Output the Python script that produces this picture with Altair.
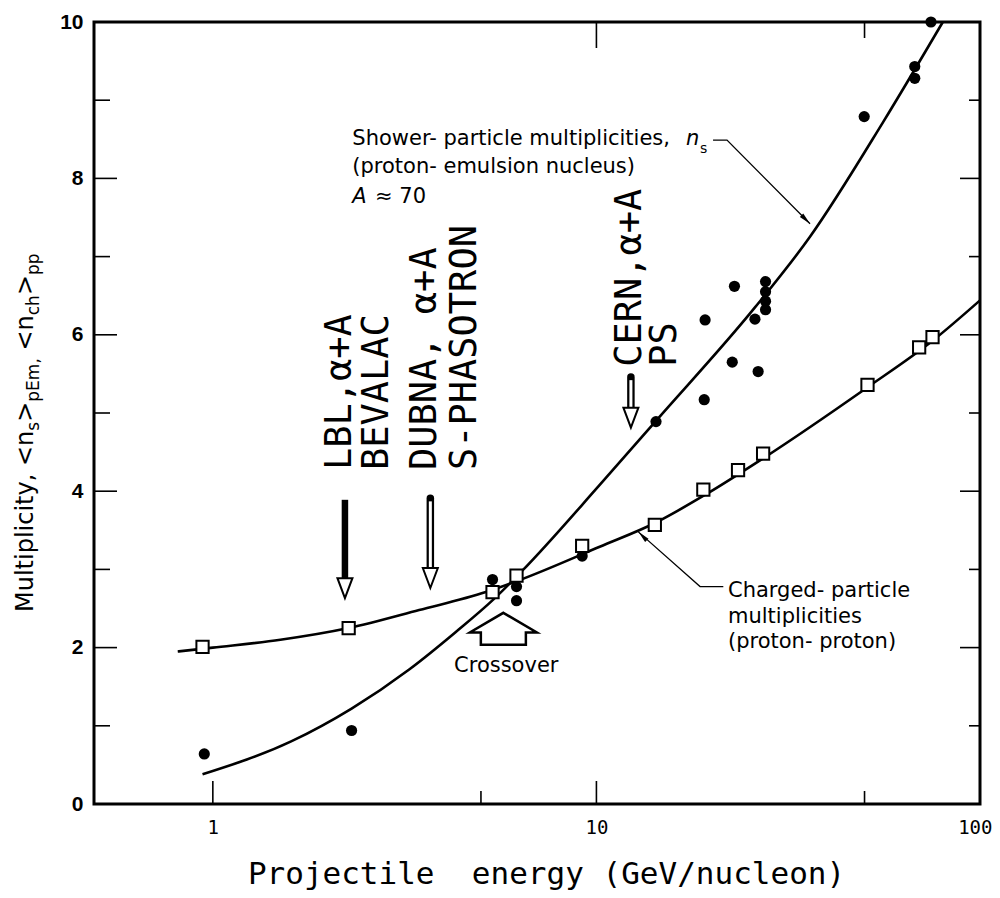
import altair as alt
import pandas as pd

# ---------------- data ----------------
# proton-proton charged multiplicities (open squares)
pp_E = [0.94, 2.26, 5.36, 6.19, 9.18, 14.2, 19.0, 23.4, 27.2, 50.9, 69.4, 75.2]
pp_M = [2.01, 2.25, 2.71, 2.92, 3.30, 3.57, 4.02, 4.27, 4.48, 5.36, 5.84, 5.97]
# proton-emulsion shower multiplicities (filled circles)
ns_E = [0.95, 2.30, 5.36, 6.19, 6.19, 9.18, 14.3, 19.1, 19.2, 22.6, 22.9, 25.9, 26.4,
        27.6, 27.6, 27.6, 27.6, 49.9, 67.6, 67.6, 74.5]
ns_M = [0.64, 0.94, 2.87, 2.78, 2.60, 3.17, 4.89, 5.17, 6.19, 5.65, 6.62, 6.20, 5.53,
        6.68, 6.55, 6.43, 6.32, 8.79, 9.43, 9.28, 10.0]
# hand-drawn curves
pp_fit_E = [0.81, 1.0, 1.5, 2.26, 3.45, 5.15, 6.2, 10.2, 14.3, 19.3, 27.2, 50.6, 75.5, 100]
pp_fit_M = [1.95, 2.0, 2.1, 2.25, 2.48, 2.71, 2.85, 3.29, 3.6, 3.96, 4.42, 5.32, 5.93, 6.44]
ns_fit_E = [0.94, 1.6, 2.3, 3.25, 4.3, 5.4, 6.4, 10.2, 14.3, 25.9, 36, 55.9, 80]
ns_fit_M = [0.38, 0.8, 1.22, 1.72, 2.2, 2.62, 2.98, 4.08, 4.9, 6.35, 7.25, 8.72, 10.0]

x_major = [1, 10, 100]
x_minor = [5, 50]
y_labels = [0, 2, 4, 6, 8, 10]
y_major = [2, 4, 6, 8]
y_minor = [1, 3, 5, 7, 9]

# ---------------- layout ----------------
W, H = 886, 782
xs = alt.Scale(type="log", domain=[0.49, 100], nice=False)
ys = alt.Scale(domain=[0, 10], nice=False, zero=False)

x_axis = alt.Axis(values=x_major, format="d", ticks=False, tickSize=0, domain=False, grid=False,
                  labelFont="DejaVu Sans Mono", labelFontSize=19, labelColor="black",
                  labelPadding=14, labelFlush=False, labelOverlap=False,
                  labelAlign={"expr": "datum.value == 100 ? 'right' : 'center'"},
                  labelOffset={"expr": "datum.value == 100 ? 12 : 0"},
                  title="Projectile\u00a0 energy (GeV/nucleon)", titleFont="DejaVu Sans Mono",
                  titleFontSize=31, titleFontWeight="normal", titleColor="black",
                  titleX=452, titleY=79, titleBaseline="alphabetic", titleAlign="center")
y_axis = alt.Axis(values=y_labels, format="d", ticks=False, tickSize=0, domain=False, grid=False,
                  labelFont="Liberation Sans", labelFontSize=21, labelFontWeight="bold",
                  labelColor="black", labelPadding=11, labelFlush=False, labelOverlap=False,
                  title=None)


def X():
    return alt.X("E:Q", scale=xs, axis=x_axis)


def Y():
    return alt.Y("M:Q", scale=ys, axis=y_axis)


pp_fit = pd.DataFrame({"E": pp_fit_E, "M": pp_fit_M})
ns_fit = pd.DataFrame({"E": ns_fit_E, "M": ns_fit_M})
pp = pd.DataFrame({"E": pp_E, "M": pp_M})
ns = pd.DataFrame({"E": ns_E, "M": ns_M})

line_pp = alt.Chart(pp_fit).mark_line(color="black", strokeWidth=2.6, interpolate="monotone").encode(
    x=X(), y=Y())
line_ns = alt.Chart(ns_fit).mark_line(color="black", strokeWidth=2.6, interpolate="monotone").encode(
    x=X(), y=Y())
circles = alt.Chart(ns).mark_circle(size=125, color="black", opacity=1).encode(x=X(), y=Y())
squares = alt.Chart(pp).mark_point(shape="square", size=150, filled=True, fill="white",
                                   stroke="black", strokeWidth=2, opacity=1).encode(x=X(), y=Y())

# ---------------- frame ticks ----------------
def tick_df(vals, key):
    return pd.DataFrame({key: vals})

ticks = [
    alt.Chart(tick_df(x_major, "E")).mark_rule(color="black", strokeWidth=1.6).encode(
        x=X(), y=alt.value(H), y2=alt.value(H - 23)),
    alt.Chart(tick_df(x_minor, "E")).mark_rule(color="black", strokeWidth=1.6).encode(
        x=X(), y=alt.value(H), y2=alt.value(H - 13)),
    alt.Chart(tick_df([10], "E")).mark_rule(color="black", strokeWidth=1.6).encode(
        x=X(), y=alt.value(0), y2=alt.value(26)),
    alt.Chart(tick_df([50], "E")).mark_rule(color="black", strokeWidth=1.6).encode(
        x=X(), y=alt.value(0), y2=alt.value(16)),
    alt.Chart(tick_df(y_major, "M")).mark_rule(color="black", strokeWidth=1.6).encode(
        y=Y(), x=alt.value(0), x2=alt.value(23)),
    alt.Chart(tick_df(y_minor, "M")).mark_rule(color="black", strokeWidth=1.6).encode(
        y=Y(), x=alt.value(0), x2=alt.value(16)),
    alt.Chart(tick_df(y_major, "M")).mark_rule(color="black", strokeWidth=1.6).encode(
        y=Y(), x=alt.value(W), x2=alt.value(W - 20)),
    alt.Chart(tick_df(y_minor, "M")).mark_rule(color="black", strokeWidth=1.6).encode(
        y=Y(), x=alt.value(W), x2=alt.value(W - 11)),
]

# ---------------- accelerator arrows ----------------
shaft_solid = pd.DataFrame({"E": [2.21], "M": [3.89], "M2": [2.85]})
shaft_hollow = pd.DataFrame({"E": [3.69, 12.3], "M": [3.91, 5.46], "M2": [2.98, 5.04]})
shaft_inner = pd.DataFrame({"E": [3.69, 12.3], "M": [3.87, 5.42], "M2": [2.98, 5.04]})
heads = pd.DataFrame({"E": [2.21, 3.69, 12.3], "M": [2.76, 2.89, 4.94]})

arrows = [
    alt.Chart(shaft_solid).mark_rule(color="black", strokeWidth=6.5).encode(
        x=X(), y=Y(), y2="M2:Q"),
    alt.Chart(shaft_hollow).mark_rule(color="black", strokeWidth=7.5, strokeCap="round").encode(
        x=X(), y=Y(), y2="M2:Q"),
    alt.Chart(shaft_inner).mark_rule(color="white", strokeWidth=3).encode(
        x=X(), y=Y(), y2="M2:Q"),
    alt.Chart(heads).mark_point(shape="M-0.75,-1L0.75,-1L0,1Z", size=400, filled=True,
                                fill="white", stroke="black", strokeWidth=2, opacity=1).encode(
        x=X(), y=Y()),
]

rot = pd.DataFrame({
    "t": ["LBL,\u03b1+A", "BEVALAC", "DUBNA,\u00a0\u03b1+A", "S-PHASOTRON", "CERN,\u03b1+A", "PS"],
    "E": [2.293, 2.855, 3.817, 4.856, 13.09, 16.16],
    "M": [4.27, 4.27, 4.27, 4.27, 5.59, 5.59],
})
rot_text = alt.Chart(rot).mark_text(angle=270, align="left", baseline="alphabetic",
                                    font="DejaVu Sans Mono", fontSize=37, color="black").encode(
    x=X(), y=Y(), text="t:N")

# crossover arrow
cross = pd.DataFrame({"E": [5.72], "M": [2.24]})
cross_arrow = alt.Chart(cross).mark_point(
    shape="M0,-0.478L1,0.11L0.672,0.11L0.672,0.478L-0.672,0.478L-0.672,0.11L-1,0.11Z",
    size=4489, filled=True, fill="white", stroke="black", strokeWidth=2.5, opacity=1).encode(
    x=X(), y=Y())

# ---------------- annotation texts ----------------
FONT = "DejaVu Sans"
txt_plain = pd.DataFrame({
    "t": ["Crossover", "Shower- particle multiplicities,", "(proton- emulsion nucleus)",
          "\u2248 70", "Charged- particle", "multiplicities", "(proton- proton)"],
    "E": [5.82, 2.31, 2.31, 2.647, 22.03, 22.03, 22.03],
    "M": [1.69, 8.43, 8.07, 7.69, 2.65, 2.31, 1.99],
    "a": ["center", "left", "left", "left", "left", "left", "left"],
})
texts = [
    alt.Chart(txt_plain[txt_plain.a == "center"]).mark_text(
        align="center", baseline="alphabetic", font=FONT, fontSize=21, color="black").encode(
        x=X(), y=Y(), text="t:N"),
    alt.Chart(txt_plain[txt_plain.a == "left"]).mark_text(
        align="left", baseline="alphabetic", font=FONT, fontSize=21, color="black").encode(
        x=X(), y=Y(), text="t:N"),
    alt.Chart(pd.DataFrame({"t": ["n", "A"], "E": [17.12, 2.31], "M": [8.43, 7.69]})).mark_text(
        align="left", baseline="alphabetic", font=FONT, fontSize=21, fontStyle="italic",
        color="black").encode(x=X(), y=Y(), text="t:N"),
    alt.Chart(pd.DataFrame({"t": ["s"], "E": [18.63], "M": [8.32]})).mark_text(
        align="left", baseline="alphabetic", font=FONT, fontSize=14, color="black").encode(
        x=X(), y=Y(), text="t:N"),
]

# leader lines with small arrowheads
lead = pd.DataFrame({
    "g": ["s", "s", "s", "c", "c", "c"],
    "i": [0, 1, 2, 0, 1, 2],
    "E": [20.14, 21.9, 36.05, 21.42, 18.63, 12.86],
    "M": [8.49, 8.49, 7.42, 2.78, 2.78, 3.48],
})
leaders = alt.Chart(lead).mark_line(color="black", strokeWidth=1.3).encode(
    x=X(), y=Y(), detail="g:N", order="i:Q")
tips = pd.DataFrame({"E": [36.05, 12.86], "M": [7.42, 3.48], "ang": [135, 315]})
tip_marks = alt.Chart(tips).mark_point(shape="M0,0L0.4,2L-0.4,2Z", size=144, filled=True,
                                       color="black", opacity=1).encode(
    x=X(), y=Y(), angle=alt.Angle("ang:Q", scale=None))

# ---------------- composite y title (rotated, with subscripts) ----------------
DV = {"M": 0.863, "u": 0.634, "l": 0.278, "t": 0.392, "i": 0.278, "p": 0.635, "c": 0.550,
      "y": 0.592, ",": 0.318, " ": 0.318, "<": 0.838, ">": 0.838, "n": 0.634, "s": 0.521,
      "E": 0.632, "m": 0.974, "h": 0.634}


def tw(s, fs):
    return sum(DV[c] for c in s) * fs


pieces = [("Multiplicity, <n", 24, 0), ("s", 17, 1), (">", 24, 0), ("pEm,", 17, 1),
          (" ", 24, None), ("<n", 24, 0), ("ch", 17, 1), (">", 24, 0), ("pp", 17, 1)]
ytitle = []
ypos = 590.0
anchor = pd.DataFrame({"E": [1.0], "M": [5.0]})
for t, fs, sub in pieces:
    if sub is not None:
        ytitle.append(
            alt.Chart(anchor).mark_text(angle=270, align="left", baseline="alphabetic",
                                        font=FONT, fontSize=fs, color="black", text=t).encode(
                x=alt.value(-61 if sub == 0 else -55), y=alt.value(ypos)))
    ypos -= tw(t, fs)

chart = alt.layer(
    line_pp, line_ns, circles, squares, *ticks, *arrows, rot_text, cross_arrow,
    *texts, leaders, tip_marks, *ytitle,
).properties(
    width=W, height=H,
    autosize=alt.AutoSizeParams(type="none"),
    padding={"left": 86, "top": 14, "right": 12, "bottom": 86},
    background="white",
).configure_view(stroke="black", strokeWidth=3)

chart.save("out.html", embed_options={"renderer": "svg", "actions": False})
